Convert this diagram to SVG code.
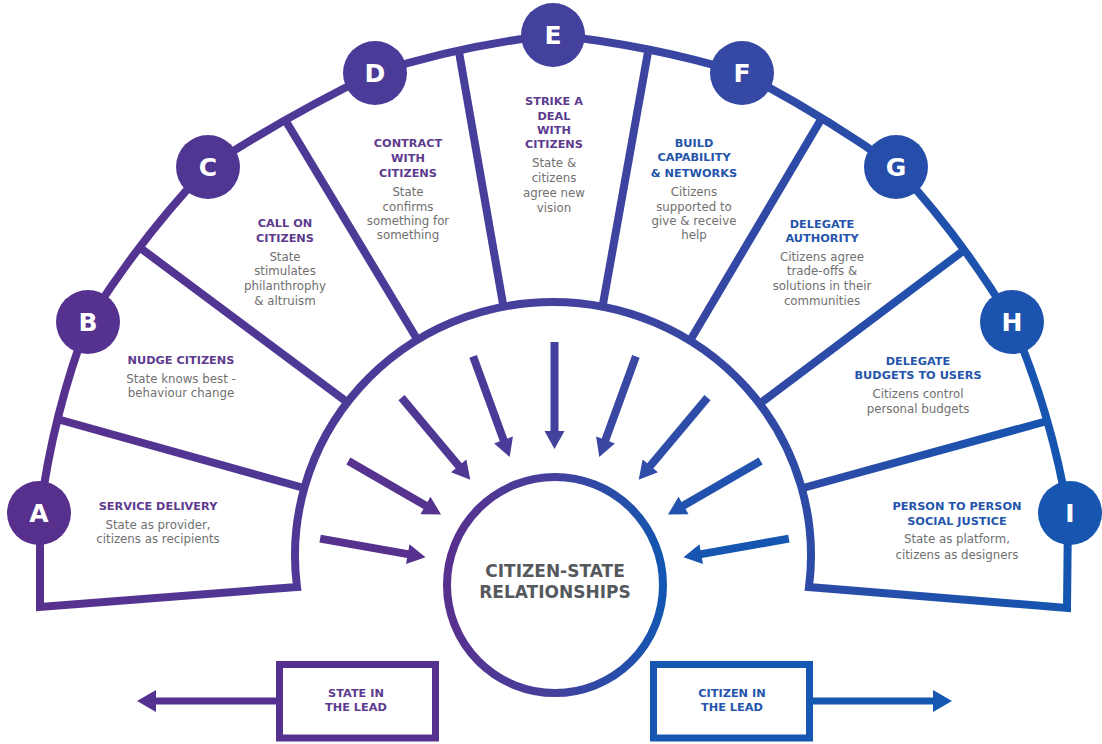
<svg xmlns="http://www.w3.org/2000/svg" width="1102" height="744" viewBox="0 0 1102 744">
<defs>
<linearGradient id="g" gradientUnits="userSpaceOnUse" x1="30" y1="0" x2="1080" y2="0">
<stop offset="0" stop-color="#58308e"/>
<stop offset="0.5" stop-color="#44419d"/>
<stop offset="1" stop-color="#1356b1"/>
</linearGradient>
<linearGradient id="gc" x1="0" y1="0" x2="1" y2="0">
<stop offset="0" stop-color="#58308e"/>
<stop offset="0.5" stop-color="#44419d"/>
<stop offset="1" stop-color="#1356b1"/>
</linearGradient>
<path id="arr" d="M-238,-4 H-149 V-10 L-131,0 L-149,10 V4 H-238 Z"/>
</defs>
<style>
.fan{fill:none;stroke:url(#g);stroke-width:8;stroke-linejoin:miter}
.t{font-family:"DejaVu Sans",sans-serif;font-weight:bold;font-size:11.3px;text-anchor:middle}
.tp{fill:#5d3b8f}
.tb{fill:#2555ab}
.b{font-family:"DejaVu Sans",sans-serif;font-size:11.8px;fill:#707070;text-anchor:middle}
.L{font-family:"DejaVu Sans",sans-serif;font-weight:bold;font-size:25px;fill:#fff;text-anchor:middle}
.bx{fill:none;stroke-width:7}
</style>
<rect width="1102" height="744" fill="#fff"/>

<g id="fan">
<path class="fan" d="M297,587 L40,607 L40,513 Q52.6,414.7 88,322 Q140.1,238.4 208,167 Q288.5,114.8 375,73 Q462,45 553,35 Q649.5,45 742,73 Q822.1,114.8 896,167 Q962,238.5 1012,322 Q1051.6,414.3 1068,513 L1067,608 L809,587 A258,253.5 0 1 0 297,587 Z"/>
<line class="fan" x1="57" y1="419" x2="304" y2="488"/>
<line class="fan" x1="139" y1="247" x2="347" y2="402"/>
<line class="fan" x1="284" y1="118" x2="417" y2="339"/>
<line class="fan" x1="459" y1="52" x2="503" y2="304"/>
<line class="fan" x1="648" y1="52" x2="603" y2="304"/>
<line class="fan" x1="821" y1="119.5" x2="691" y2="339"/>
<line class="fan" x1="965" y1="249.5" x2="762" y2="402"/>
<line class="fan" x1="1049" y1="420.5" x2="803" y2="488"/>
</g>

<g id="connectors">
<use href="#arr" transform="translate(554.5,580) rotate(10)" fill="#57318e"/>
<use href="#arr" transform="translate(554.5,580) rotate(30)" fill="#55338f"/>
<use href="#arr" transform="translate(554.5,580) rotate(50)" fill="#4f3794"/>
<use href="#arr" transform="translate(554.5,580) rotate(70)" fill="#493c99"/>
<use href="#arr" transform="translate(554.5,580) rotate(90)" fill="#43419d"/>
<use href="#arr" transform="translate(554.5,580) rotate(110)" fill="#3a47a3"/>
<use href="#arr" transform="translate(554.5,580) rotate(130)" fill="#2d4da9"/>
<use href="#arr" transform="translate(554.5,580) rotate(150)" fill="#2152ae"/>
<use href="#arr" transform="translate(554.5,580) rotate(170)" fill="#1656b1"/>
<path d="M276,697.5 H156 V690 L137,701 L156,712 V704.5 H276 Z" fill="#55328f"/>
<path d="M813,697.5 H933 V690 L952,701 L933,712 V704.5 H813 Z" fill="#1557b1"/>
</g>

<g id="center">
<circle cx="555" cy="585" r="108" fill="#fff" stroke="url(#gc)" stroke-width="8"/>
<text x="555" y="577" font-family="DejaVu Sans, sans-serif" font-weight="bold" font-size="17" fill="#55595e" text-anchor="middle">CITIZEN-STATE</text>
<text x="555" y="598" font-family="DejaVu Sans, sans-serif" font-weight="bold" font-size="17" fill="#55595e" text-anchor="middle">RELATIONSHIPS</text>
</g>

<g id="node-A">
<circle cx="39" cy="513" r="32" fill="#57308e"/>
<text class="L" x="39" y="522">A</text>
<text class="t tp" x="158" y="510">SERVICE DELIVERY</text>
<text class="b" x="158" y="529">State as provider,</text>
<text class="b" x="158" y="543">citizens as recipients</text>
</g>

<g id="node-B">
<circle cx="88" cy="322" r="32" fill="#55328f"/>
<text class="L" x="88" y="331">B</text>
<text class="t tp" x="181" y="364">NUDGE CITIZENS</text>
<text class="b" x="181" y="383">State knows best -</text>
<text class="b" x="181" y="397">behaviour change</text>
</g>

<g id="node-C">
<circle cx="208" cy="167" r="32" fill="#503693"/>
<text class="L" x="208" y="176">C</text>
<text class="t tp" x="285" y="227">CALL ON</text>
<text class="t tp" x="285" y="242">CITIZENS</text>
<text class="b" x="285" y="261">State</text>
<text class="b" x="285" y="275">stimulates</text>
<text class="b" x="285" y="290">philanthrophy</text>
<text class="b" x="285" y="305">&amp; altruism</text>
</g>

<g id="node-D">
<circle cx="375" cy="73" r="32" fill="#4a3b98"/>
<text class="L" x="375" y="82">D</text>
<text class="t tp" x="408" y="147">CONTRACT</text>
<text class="t tp" x="408" y="162">WITH</text>
<text class="t tp" x="408" y="177">CITIZENS</text>
<text class="b" x="408" y="196">State</text>
<text class="b" x="408" y="211">confirms</text>
<text class="b" x="408" y="225">something for</text>
<text class="b" x="408" y="239">something</text>
</g>

<g id="node-E">
<circle cx="553" cy="35" r="32" fill="#43419d"/>
<text class="L" x="553" y="44">E</text>
<text class="t tp" x="554" y="105">STRIKE A</text>
<text class="t tp" x="554" y="120">DEAL</text>
<text class="t tp" x="554" y="134">WITH</text>
<text class="t tp" x="554" y="148">CITIZENS</text>
<text class="b" x="554" y="167">State &amp;</text>
<text class="b" x="554" y="182">citizens</text>
<text class="b" x="554" y="197">agree new</text>
<text class="b" x="554" y="212">vision</text>
</g>

<g id="node-F">
<circle cx="742" cy="73" r="32" fill="#3448a4"/>
<text class="L" x="742" y="82">F</text>
<text class="t tb" x="694" y="147">BUILD</text>
<text class="t tb" x="694" y="161">CAPABILITY</text>
<text class="t tb" x="694" y="177">&amp; NETWORKS</text>
<text class="b" x="694" y="196">Citizens</text>
<text class="b" x="694" y="211">supported to</text>
<text class="b" x="694" y="225">give &amp; receive</text>
<text class="b" x="694" y="239">help</text>
</g>

<g id="node-G">
<circle cx="896" cy="167" r="32" fill="#264daa"/>
<text class="L" x="896" y="176">G</text>
<text class="t tb" x="822" y="228">DELEGATE</text>
<text class="t tb" x="822" y="242">AUTHORITY</text>
<text class="b" x="822" y="261">Citizens agree</text>
<text class="b" x="822" y="275">trade-offs &amp;</text>
<text class="b" x="822" y="290">solutions in their</text>
<text class="b" x="822" y="305">communities</text>
</g>

<g id="node-H">
<circle cx="1012" cy="322" r="32" fill="#1c53ae"/>
<text class="L" x="1012" y="331">H</text>
<text class="t tb" x="918" y="365">DELEGATE</text>
<text class="t tb" x="918" y="379">BUDGETS TO USERS</text>
<text class="b" x="918" y="398">Citizens control</text>
<text class="b" x="918" y="413">personal budgets</text>
</g>

<g id="node-I">
<circle cx="1070" cy="513" r="32" fill="#1655b0"/>
<text class="L" x="1070" y="522">I</text>
<text class="t tb" x="957" y="510">PERSON TO PERSON</text>
<text class="t tb" x="957" y="525">SOCIAL JUSTICE</text>
<text class="b" x="957" y="543">State as platform,</text>
<text class="b" x="957" y="559">citizens as designers</text>
</g>

<g id="state-lead">
<rect class="bx" x="279.5" y="664.5" width="156" height="73.5" stroke="#55328f"/>
<text class="t tp" x="356" y="697" font-size="11">STATE IN</text>
<text class="t tp" x="356" y="711" font-size="11">THE LEAD</text>
</g>

<g id="citizen-lead">
<rect class="bx" x="653.5" y="664.5" width="156" height="73.5" stroke="#1557b1"/>
<text class="t tb" x="732" y="697" font-size="11">CITIZEN IN</text>
<text class="t tb" x="732" y="711" font-size="11">THE LEAD</text>
</g>
</svg>
